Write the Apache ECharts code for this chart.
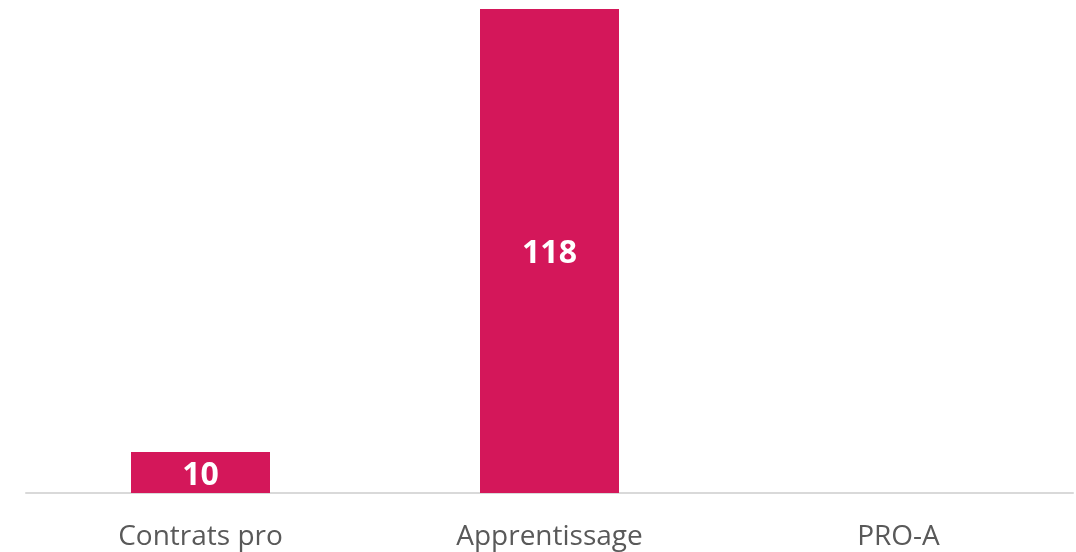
<!DOCTYPE html>
<html>
<head>
<meta charset="utf-8">
<script src="https://cdn.jsdelivr.net/npm/echarts@6/dist/echarts.min.js"></script>
<style>html,body{margin:0;padding:0;background:#fff;}#c{width:1076px;height:552px;}</style>
</head>
<body>
<div id="c"></div>
<script>
const categories = ['Contrats pro', 'Apprentissage', 'PRO-A'];
const values = [10, 118, 0];

const chart = echarts.init(document.getElementById('c'));
chart.setOption({
  animation: false,
  grid: { left: 26, right: 3, top: 9, bottom: 59, containLabel: false },
  xAxis: {
    type: 'category',
    data: categories,
    axisLine: { lineStyle: { color: '#d9d9d9', width: 2 } },
    axisTick: { show: false },
    axisLabel: { color: '#595959', fontSize: 28, fontFamily: 'Open Sans', margin: 30 }
  },
  yAxis: {
    type: 'value', min: 0, max: 118,
    show: false,
    splitLine: { show: false }
  },
  series: [{
    type: 'bar',
    data: values,
    barWidth: 139,
    itemStyle: { color: '#d4175a' },
    label: {
      show: true, position: 'inside', color: '#fff', fontWeight: 'bold',
      fontSize: 32, fontFamily: 'Open Sans', offset: [0, 3],
      formatter: p => p.value === 0 ? '' : String(p.value)
    }
  }]
});
</script>
</body>
</html>
